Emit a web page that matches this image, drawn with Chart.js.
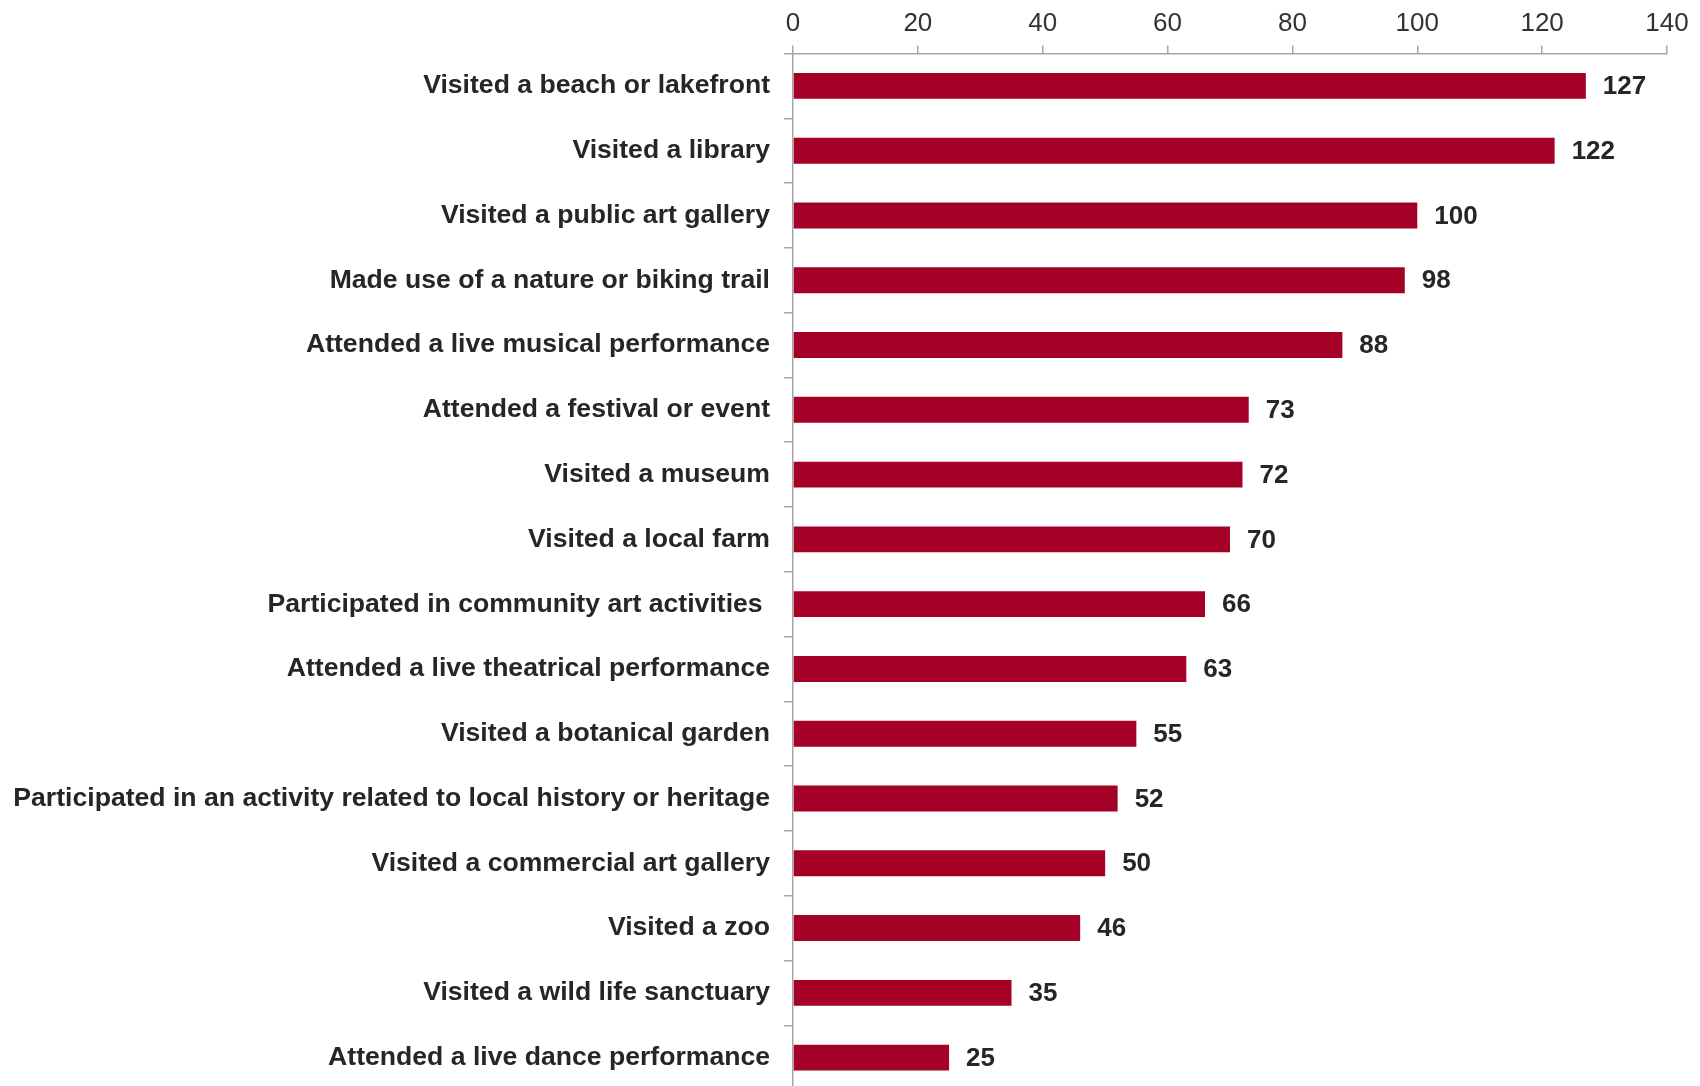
<!DOCTYPE html>
<html>
<head>
<meta charset="utf-8">
<script src="https://cdn.jsdelivr.net/npm/chart.js@4"></script>
<style>
  html, body { margin: 0; padding: 0; background: #fff; overflow: hidden; }
  #wrap { position: absolute; left: 0; top: 0; width: 1700px; height: 1120px; }
</style>
</head>
<body>
<div id="wrap"><canvas id="activityChart" width="1700" height="1120"></canvas></div>
<script>
// activities, top to bottom as in the source chart
const activities = [
    'Visited a beach or lakefront',
    'Visited a library',
    'Visited a public art gallery',
    'Made use of a nature or biking trail',
    'Attended a live musical performance',
    'Attended a festival or event',
    'Visited a museum',
    'Visited a local farm',
    'Participated in community art activities ',
    'Attended a live theatrical performance',
    'Visited a botanical garden',
    'Participated in an activity related to local history or heritage',
    'Visited a commercial art gallery',
    'Visited a zoo',
    'Visited a wild life sanctuary',
    'Attended a live dance performance'
];
const counts = [127, 122, 100, 98, 88, 73, 72, 70, 66, 63, 55, 52, 50, 46, 35, 25];
const axisTicks = [0, 20, 40, 60, 80, 100, 120, 140];

const barColor = '#a50026';
const textColor = '#262626';
const axisColor = '#a6a6a6';

Chart.defaults.font.family = '"Liberation Sans", Arial, sans-serif';
Chart.defaults.color = textColor;

// value labels at the end of each bar
const valueLabels = {
    id: 'valueLabels',
    afterDatasetsDraw(chart){
        const ctx = chart.ctx;
        const meta = chart.getDatasetMeta(0);
        ctx.save();
        ctx.font = 'bold 26px "Liberation Sans", Arial, sans-serif';
        ctx.fillStyle = textColor;
        ctx.textAlign = 'left';
        ctx.textBaseline = 'middle';
        meta.data.forEach((bar, i)=>{
            ctx.fillText(String(counts[i]), bar.x + 17, bar.y + 1);
        });
        ctx.restore();
    }
};

new Chart(document.getElementById('activityChart'), {
    type: 'bar',
    data: {
        labels: activities,
        datasets: [{
            data: counts,
            backgroundColor: barColor,
            borderWidth: 0,
            barPercentage: 0.4,
            categoryPercentage: 1.0
        }]
    },
    options: {
        indexAxis: 'y',
        responsive: false,
        animation: false,
        devicePixelRatio: 1,
        layout: { padding: { left: 0, right: 33, top: 0, bottom: 0 } },
        plugins: {
            legend: { display: false },
            tooltip: { enabled: false }
        },
        scales: {
            x: {
                position: 'top',
                min: axisTicks[0],
                max: axisTicks[axisTicks.length - 1],
                afterBuildTicks: (scale)=>{ scale.ticks = axisTicks.map(v=>({ value: v })); },
                afterFit: (scale)=>{ scale.height = 53.5; },
                grid: { drawOnChartArea: false, drawTicks: true, tickLength: 8, color: axisColor, lineWidth: 1.5 },
                border: { display: true, color: axisColor, width: 1.5 },
                ticks: { color: '#333333', font: { size: 26 }, padding: 6.5 }
            },
            y: {
                afterFit: (scale)=>{ scale.width = 793; },
                grid: { offset: true, drawOnChartArea: false, drawTicks: true, tickLength: 9, color: axisColor, lineWidth: 1.5 },
                border: { display: true, color: axisColor, width: 1.5 },
                ticks: { color: textColor, font: { size: 26.6, weight: 'bold' }, padding: 14, autoSkip: false }
            }
        }
    },
    plugins: [valueLabels]
});
</script>
</body>
</html>
